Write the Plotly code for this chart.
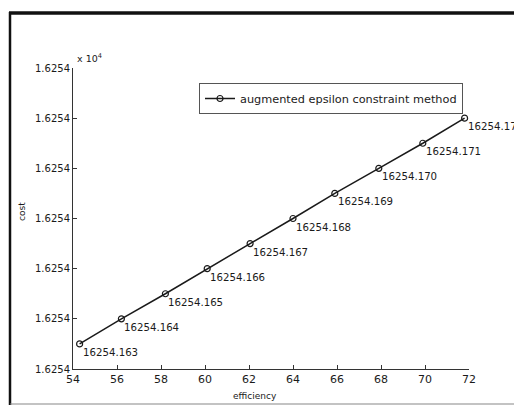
import plotly.graph_objects as go

efficiency = [54.3, 56.2, 58.2, 60.1, 62.05, 64.0, 65.9, 67.9, 69.9, 71.8]
cost = [16254.163, 16254.164, 16254.165, 16254.166, 16254.167,
        16254.168, 16254.169, 16254.170, 16254.171, 16254.172]
x_ticks = [54, 56, 58, 60, 62, 64, 66, 68, 70, 72]
y_ticks = [16254.162, 16254.164, 16254.166, 16254.168, 16254.170, 16254.172, 16254.174]
y_ticktext = ["1.6254"] * len(y_ticks)
series_name = "augmented epsilon constraint method"

FONT = "DejaVu Sans, Liberation Sans, Arial, sans-serif"
INK = "#1a1a1a"

# page offset (body margin) compensation
OFF = 8
W, H = 522 - OFF, 407 - OFF
L, R, T, B = 73 - OFF, 469 - OFF, 68 - OFF, 369 - OFF


def px(x):
    return (x - OFF - L) / (R - L)


def py(y):
    return (B - (y - OFF)) / (B - T)


fig = go.Figure()
fig.add_trace(go.Scatter(
    x=efficiency, y=cost, mode="lines+markers", name=series_name,
    line=dict(color=INK, width=1.5),
    marker=dict(symbol="circle-open", size=6, color=INK, line=dict(width=1.2)),
))

for xv, yv in zip(efficiency, cost):
    fig.add_annotation(x=xv, y=yv, text=f"{yv:.3f}", showarrow=False,
                       xanchor="left", yanchor="top", xshift=1, yshift=-1,
                       font=dict(family=FONT, size=10.2, color=INK))

fig.add_annotation(xref="paper", yref="paper", x=0.005, y=1.0, yshift=2,
                   text="x 10<sup>4</sup>", showarrow=False,
                   xanchor="left", yanchor="bottom",
                   font=dict(family=FONT, size=9.5, color=INK))

fig.add_annotation(xref="paper", yref="paper", x=px(22), y=py(212),
                   text="cost", textangle=-90, showarrow=False,
                   xanchor="center", yanchor="middle",
                   font=dict(family=FONT, size=9, color=INK))
fig.add_annotation(xref="paper", yref="paper", x=px(255), y=py(396),
                   text="efficiency", showarrow=False,
                   xanchor="center", yanchor="middle",
                   font=dict(family=FONT, size=9, color=INK))

shapes = [
    dict(type="line", xref="paper", yref="paper", x0=px(9), x1=px(530), y0=py(13), y1=py(13),
         line=dict(color="#111", width=3.5)),
    dict(type="line", xref="paper", yref="paper", x0=px(10), x1=px(10), y0=py(12), y1=py(405),
         line=dict(color="#111", width=2.5)),
    dict(type="line", xref="paper", yref="paper", x0=px(10), x1=px(530), y0=py(404), y1=py(404),
         line=dict(color="#888", width=1.2)),
]

fig.update_layout(
    width=W, height=H,
    margin=dict(l=L, r=W - R, t=T, b=H - B),
    paper_bgcolor="white", plot_bgcolor="white",
    font=dict(family=FONT, size=10.5, color=INK),
    showlegend=True,
    legend=dict(x=px(199), y=py(83), xanchor="left", yanchor="top",
                bordercolor="#555", borderwidth=1, bgcolor="white",
                font=dict(family=FONT, size=11.3, color=INK),
                itemwidth=30, tracegroupgap=0),
    shapes=shapes,
    xaxis=dict(range=[54, 72], tickvals=x_ticks, ticktext=[str(v) for v in x_ticks],
               showgrid=False, zeroline=False, showline=True, linecolor="#333", linewidth=1,
               ticks="inside", ticklen=4, tickcolor="#333", mirror=False,
               tickfont=dict(family=FONT, size=11, color=INK)),
    yaxis=dict(range=[16254.162, 16254.174], tickvals=y_ticks, ticktext=y_ticktext,
               showgrid=False, zeroline=False, showline=True, linecolor="#333", linewidth=1,
               ticks="inside", ticklen=4, tickcolor="#333", mirror=False,
               tickfont=dict(family=FONT, size=10, color=INK)),
)

fig.write_html("out.html")
